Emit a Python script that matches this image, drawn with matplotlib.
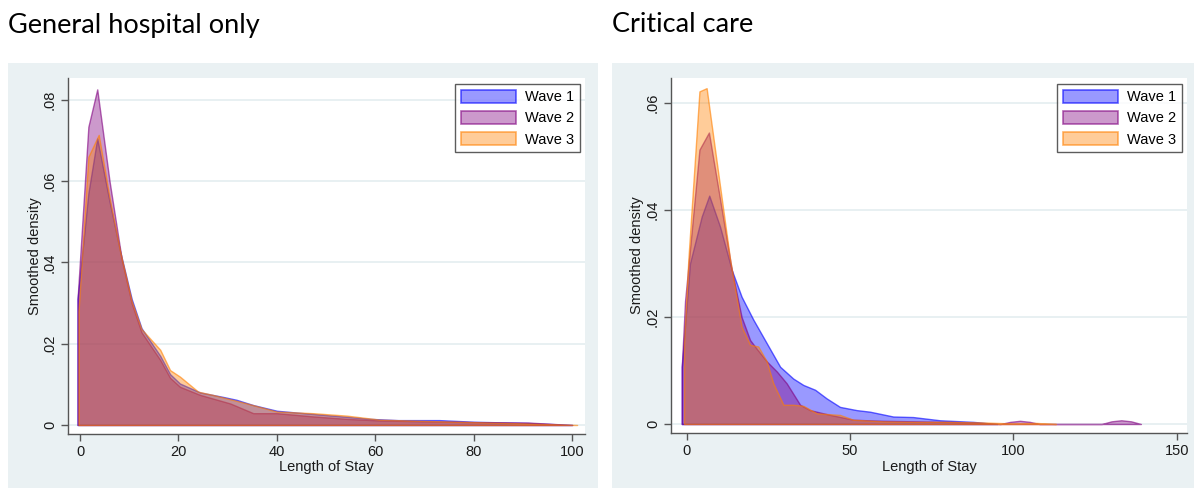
import numpy as np
import matplotlib
matplotlib.use('Agg')
import matplotlib.pyplot as plt
from matplotlib.patches import Rectangle, Patch

plt.rcParams['font.family'] = ['Liberation Sans', 'DejaVu Sans']

#General hospital only - smoothed density of length of stay
gen_w1_x = [-0.5, -0.5, 1.7, 3.5, 6, 8.1, 10.5, 12.5, 16.3, 18.3, 20.3, 24.4, 29.1, 31.8, 35.2, 40, 47.4, 54.2, 59, 64.6, 73, 80, 91, 100]
gen_w1_y = [0, 0.031, 0.057, 0.0705, 0.055, 0.043, 0.031, 0.0238, 0.017, 0.0125, 0.0102, 0.0080, 0.0069, 0.0062, 0.0049, 0.0035, 0.0027, 0.0020, 0.0015, 0.0012, 0.0012, 0.0008, 0.0005, 0]
gen_w2_x = [-0.5, -0.5, 1.7, 3.5, 6, 8.5, 10.5, 12.5, 16.3, 18.3, 20.3, 24.4, 30.5, 35.2, 40, 47.4, 54.2, 61, 70, 80, 91, 100]
gen_w2_y = [0, 0.031, 0.0734, 0.0826, 0.060, 0.0406, 0.030, 0.0228, 0.016, 0.0116, 0.0094, 0.0074, 0.0053, 0.0029, 0.0029, 0.0021, 0.0015, 0.0011, 0.0009, 0.0007, 0.0006, 0]
gen_w3_x = [-0.3, -0.3, 1.7, 3.8, 6, 8.1, 10.5, 12.5, 16.3, 18.3, 20.3, 24, 27, 33.9, 40, 47.4, 54.2, 61, 70, 80, 90, 101]
gen_w3_y = [0, 0.028, 0.066, 0.0714, 0.056, 0.043, 0.0305, 0.0236, 0.0185, 0.0135, 0.0119, 0.0082, 0.0074, 0.0053, 0.0033, 0.0029, 0.0023, 0.0013, 0.0010, 0.0007, 0.0004, 0]

#Critical care
cc_w1_x = [-1.5, -1.5, 1, 4.6, 6.9, 10.2, 13.8, 16.8, 20.4, 24.5, 28.6, 32.6, 35.7, 39.3, 42.8, 46.9, 52, 56.1, 63.2, 69.3, 77.5, 87.7, 95]
cc_w1_y = [0, 0.0107, 0.030, 0.0388, 0.0427, 0.0369, 0.0288, 0.0238, 0.0195, 0.0151, 0.0107, 0.0085, 0.0073, 0.0064, 0.0048, 0.0032, 0.0026, 0.0023, 0.0014, 0.0013, 0.0007, 0.0004, 0]
cc_w2_x = [-1.5, -1.5, -0.5, 1, 3.9, 6.8, 10, 13.8, 16.8, 19.4, 21.5, 24.5, 27.6, 30.6, 34.7, 37.7, 43.9, 51, 60, 70, 80, 90, 96, 99, 102, 105, 108, 127, 130, 133, 136, 139]
cc_w2_y = [0, 0.0107, 0.023, 0.0326, 0.0513, 0.0545, 0.0428, 0.0288, 0.020, 0.0157, 0.014, 0.0117, 0.0098, 0.0076, 0.0036, 0.0026, 0.0017, 0.0008, 0.0006, 0.0005, 0.0004, 0.0002, 0, 0.0004, 0.0006, 0.0004, 0, 0, 0.0005, 0.0007, 0.0005, 0]
cc_w3_x = [-0.8, -0.8, 0.5, 3.9, 6.1, 9.5, 13.3, 16.8, 19.4, 21.9, 24.5, 26.5, 29.6, 32.6, 35.7, 39.8, 46.9, 51, 60, 70, 80, 90, 100, 107, 113]
cc_w3_y = [0, 0.015, 0.0307, 0.0622, 0.0628, 0.0476, 0.0307, 0.0182, 0.0148, 0.0145, 0.0117, 0.0076, 0.0036, 0.0036, 0.0034, 0.002, 0.0017, 0.0008, 0.0005, 0.0004, 0.0004, 0.0003, 0.0001, 0.0002, 0]

waves = ['Wave 1', 'Wave 2', 'Wave 3']
colors = ['#0000ff', '#800080', '#ff8000']

W, H = 1194, 488
fig = plt.figure(figsize=(W / 100, H / 100), dpi=100)
fig.patch.set_facecolor('white')

def frac(x0, y0, x1, y1):
    return [x0 / W, 1 - y1 / H, (x1 - x0) / W, (y1 - y0) / H]

bg = '#eaf1f3'
for x0, x1 in [(8, 598), (612, 1194)]:
    r = frac(x0, 63, x1, 488)
    fig.patches.append(Rectangle((r[0], r[1]), r[2], r[3], transform=fig.transFigure,
                                 facecolor=bg, edgecolor='none', zorder=-5))

panels = [
    dict(title='General hospital only', tx=8, box=(68, 78, 585, 434), xlim=(-2.44, 102.6), ylim=(-0.00222, 0.0854),
         xt=[0, 20, 40, 60, 80, 100], yt=[0, .02, .04, .06, .08], leg=580,
         data=[(gen_w1_x, gen_w1_y), (gen_w2_x, gen_w2_y), (gen_w3_x, gen_w3_y)]),
    dict(title='Critical care', tx=612, box=(671, 78, 1187, 433), xlim=(-4.8, 153.1), ylim=(-0.00168, 0.0647),
         xt=[0, 50, 100, 150], yt=[0, .02, .04, .06], leg=1182,
         data=[(cc_w1_x, cc_w1_y), (cc_w2_x, cc_w2_y), (cc_w3_x, cc_w3_y)]),
]

for p in panels:
    fig.text(p['tx'] / W, 1 - 25 / H, p['title'], fontsize=19.5, family=['Lato', 'DejaVu Sans'], va='center', ha='left')
    ax = fig.add_axes(frac(*p['box']))
    ax.set_zorder(1)
    ax.set_facecolor('white')
    for (x, y), c in zip(p['data'], colors):
        ax.fill_between(x, y, 0, facecolor=matplotlib.colors.to_rgba(c, 0.4),
                        edgecolor=matplotlib.colors.to_rgba(c, 0.6), linewidth=1.0)
    ax.set_xlim(*p['xlim'])
    ax.set_ylim(*p['ylim'])
    ax.set_xticks(p['xt'])
    ax.set_yticks(p['yt'])
    ax.set_yticklabels(['0' if v == 0 else ('%.2f' % v)[1:] for v in p['yt']], rotation=90, va='center')
    ax.yaxis.grid(True, color='#e4eef0', linewidth=1.2)
    ax.set_axisbelow(True)
    for s in ['top', 'right']:
        ax.spines[s].set_visible(False)
    for s in ['left', 'bottom']:
        ax.spines[s].set_color('#555555')
        ax.spines[s].set_linewidth(1.0)
    ax.tick_params(direction='out', length=5, width=1, color='#555555', labelsize=10.5, labelcolor='#1a1a1a', pad=3)
    ax.set_xlabel('Length of Stay', fontsize=10.5, color='#1a1a1a', labelpad=1)
    ax.set_ylabel('Smoothed density', fontsize=10.5, color='#1a1a1a', labelpad=1)
    handles = [Patch(facecolor=matplotlib.colors.to_rgba(c, 0.4), edgecolor=matplotlib.colors.to_rgba(c, 0.6), linewidth=1.2)
               for c in colors]
    leg = ax.legend(handles, waves, loc='upper right', bbox_to_anchor=(p['leg'] / W, 1 - 84 / H),
                    bbox_transform=fig.transFigure, borderaxespad=0, fontsize=10.5, frameon=True, fancybox=False,
                    handlelength=3.75, handleheight=1.0, labelspacing=0.45, borderpad=0.4, handletextpad=0.65)
    leg.get_frame().set_edgecolor('#333333')
    leg.get_frame().set_linewidth(1.0)

fig.savefig('out.png', dpi=100)
